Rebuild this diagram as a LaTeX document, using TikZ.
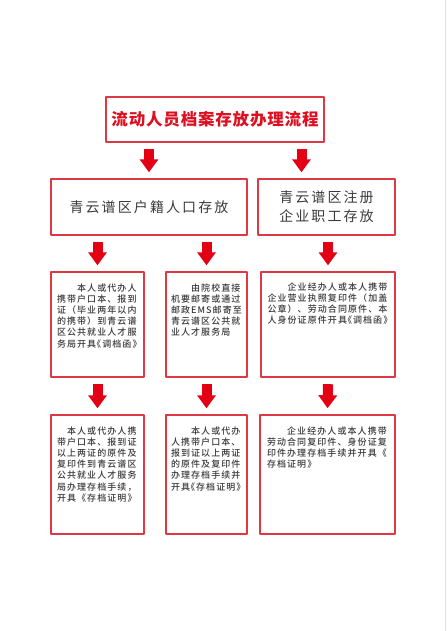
\documentclass[tikz,border=0pt]{standalone}
\usepackage{fontspec}
\newfontfamily\hei{Noto Sans CJK SC}
\newfontfamily\heim{Noto Sans CJK SC Medium}
\newfontfamily\heib{Noto Sans CJK SC Black}
\usetikzlibrary{arrows.meta,positioning}
\definecolor{boxred}{RGB}{222,56,68}
\definecolor{arrred}{RGB}{228,0,20}
\definecolor{titred}{RGB}{220,16,32}
\definecolor{txtgray}{RGB}{58,58,58}

\begin{document}
\begin{tikzpicture}[x=1pt,y=-1pt,line join=round,
  frame/.style={draw=boxred,line width=1.4pt,inner sep=0pt},
  head/.style={text=txtgray,align=center,font={\fontsize{14}{19}\hei\addfontfeature{LetterSpace=15}}},
  note/.style={text=txtgray,align=left,inner sep=0pt,font={\fontsize{9}{11.2}\heim\addfontfeature{LetterSpace=12}}},
  blk/.style={draw=arrred,line width=10pt,-{Triangle[width=18pt,length=13pt]},shorten <=6.5pt,shorten >=6pt}]
\useasboundingbox (0,0) rectangle (447,631);
\draw[black!12] (445,0) -- (445,631);

\node[frame,minimum width=218pt,minimum height=45pt,text=titred,font={\fontsize{16.5}{20}\heib\addfontfeature{LetterSpace=5}}] (t) at (215,119.5) {流动人员档案存放办理流程};

\node[frame,head,minimum width=196pt,minimum height=56pt] (l) at (149,207) {青云谱区户籍人口存放};
\node[frame,head,minimum width=137pt,minimum height=56pt] (r) at (326.5,207) {青云谱区注册\\企业职工存放};

\node[frame,minimum width=93pt,minimum height=105pt] (a1) at (97.5,324.5) {};
\node[frame,minimum width=81pt,minimum height=105pt] (a2) at (206.5,324.5) {};
\node[frame,minimum width=134pt,minimum height=105pt] (a3) at (328,324.5) {};
\node[frame,minimum width=93pt,minimum height=119pt] (b1) at (97.5,474.5) {};
\node[frame,minimum width=81pt,minimum height=119pt] (b2) at (206.5,474.5) {};
\node[frame,minimum width=135pt,minimum height=119pt] (b3) at (327.5,474.5) {};

\node[note,text width=81pt,below=12pt of a1.north] (a1txt) {　　本人或代办人\\携带户口本、报到\\证（毕业两年以内\\的携带）到青云谱\\区公共就业人才服\\务局开具\kern-.45em《调档函》};
\node[note,text width=71pt,below=12pt of a2.north] (a2txt) {　　由院校直接\\机要邮寄或通过\\邮政EMS邮寄至\\青云谱区公共就\\业人才服务局};
\node[note,text width=121pt,below=11pt of a3.north] (a3txt) {　　企业经办人或本人携带\\企业营业执照复印件（加盖\\公章）、劳动合同原件、本\\人身份证原件开具\kern-.45em《调档函》};
\node[note,text width=81pt,below=12pt of b1.north] (b1txt) {　本人或代办人携\\带户口本、报到证\\以上两证的原件及\\复印件到青云谱区\\公共就业人才服务\\局办理存档手续，\\开具《存档证明》};
\node[note,text width=71pt,below=12pt of b2.north] (b2txt) {　　本人或代办\\人携带户口本、\\报到证以上两证\\的原件及复印件\\办理存档手续并\\开具\kern-.45em《存档证明》};
\node[note,text width=121pt,below=12pt of b3.north] (b3txt) {　　企业经办人或本人携带\\劳动合同复印件、身份证复\\印件办理存档手续并开具《\\存档证明》};

\draw[blk] (t.south -| l.north) -- (l.north);
\coordinate (rin) at ([xshift=-25pt]r.north);
\draw[blk] (t.south -| rin) -- (rin);
\draw[blk] (l.south -| a1.north) -- (a1.north);
\draw[blk] (l.south -| a2.north) -- (a2.north);
\draw[blk] (r.south -| a3.north) -- (a3.north);
\foreach \i in {1,2,3}
  \draw[blk] (a\i.south) -- (b\i.north);
\end{tikzpicture}
\end{document}
